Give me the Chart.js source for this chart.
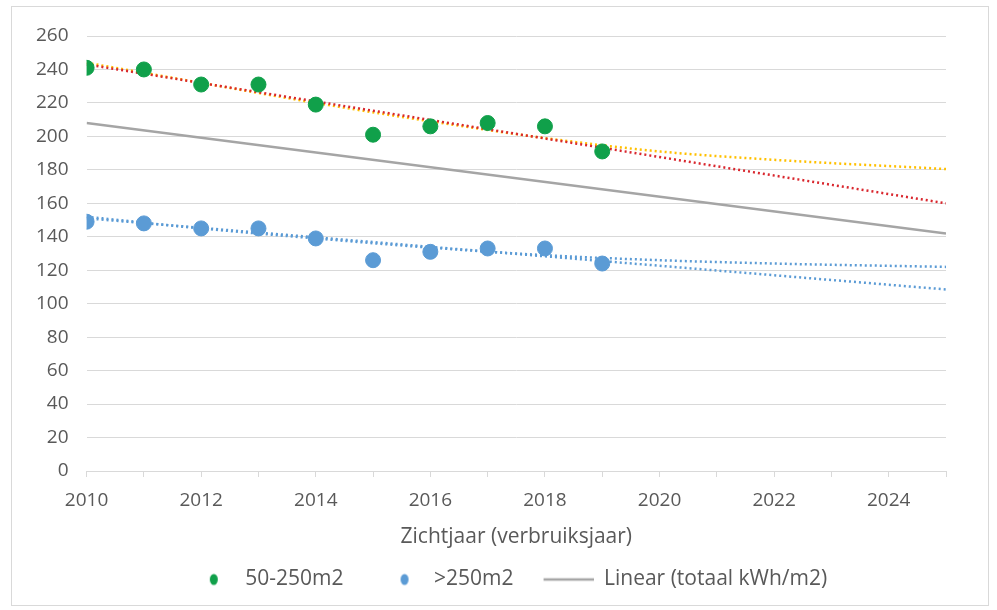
<!DOCTYPE html>
<html>
<head>
<meta charset="utf-8">
<script src="https://cdn.jsdelivr.net/npm/chart.js@4.4.1/dist/chart.umd.min.js"></script>
<style>
    html, body { margin: 0; padding: 0; background: #fff; }
    #wrap {
        position: absolute; left: 11px; top: 6px; width: 978px; height: 600px;
        border: 1px solid #d9d9d9; box-sizing: border-box;
    }
    #box { position: absolute; left: 0; top: 0; width: 997px; height: 610px; }
</style>
</head>
<body>
<div id="wrap"></div>
<div id="box"><canvas id="chart" width="997" height="610"></canvas></div>
<script>
// measured points (zichtjaar)
const years = [2010, 2011, 2012, 2013, 2014, 2015, 2016, 2017, 2018, 2019];
const small = [241, 240, 231, 231, 219, 201, 206, 208, 206, 191];   // 50-250m2
const large = [149, 148, 145, 145, 139, 126, 131, 133, 133, 124];   // >250m2

// trend lines
const totalX = [2010, 2025];
const totalY = [208, 142];                 // Linear (totaal kWh/m2)
const smallLinX = [2010, 2025];
const smallLinY = [243, 160];
const smallCurveX = [2010, 2012, 2014, 2016, 2018, 2020, 2022, 2025];
const smallCurveY = [244, 232, 220, 209, 199, 191, 186, 180.5];
const largeLinX = [2010, 2025];
const largeLinY = [151, 108.5];
const largeCurveX = [2010, 2012, 2014, 2016, 2018, 2020, 2022, 2025];
const largeCurveY = [152, 145, 139, 133.5, 129, 126, 124, 122];

const xLabels = [2010, 2012, 2014, 2016, 2018, 2020, 2022, 2024];

function pts(xs, ys) {
    return xs.map((x, i) => ({ x: x, y: ys[i] }));
}

const grey = "#595959";
const font = "'Open Sans', 'Liberation Sans', sans-serif";
const green = "#10a04a";
const blue = "#5b9bd5";
const lineGrey = "#a5a5a5";

// legend symbols, drawn into boxes so spacing looks like the Excel legend
const ICON_W = 68;
function legendIcon(kind, color, offset) {
    const c = document.createElement("canvas");
    c.width = ICON_W;
    c.height = 14;
    const g = c.getContext("2d");
    g.fillStyle = color;
    g.strokeStyle = color;
    if (kind === "dot") {
        g.beginPath();
        g.ellipse(offset, 7, 4, 5.5, 0, 0, Math.PI * 2);
        g.fill();
    } else {
        g.lineWidth = 2.5;
        g.beginPath();
        g.moveTo(offset, 7);
        g.lineTo(ICON_W, 7);
        g.stroke();
    }
    return c;
}
const icons = [legendIcon("dot", green, 47), legendIcon("dot", blue, 49), legendIcon("line", lineGrey, 18)];

// nudge the legend a bit to the right, as in the original
const legendShift = {
    id: "legendShift",
    afterLayout(chart) {
        chart.legend.left += 15;
        chart.legend.right += 15;
    },
};

const ctx = document.getElementById("chart").getContext("2d");
new Chart(ctx, {
    type: "scatter",
    data: {
        datasets: [
            {
                label: "50-250m2",
                data: pts(years, small),
                backgroundColor: green,
                borderColor: green,
                pointRadius: 7.5,
                order: 0,
            },
            {
                label: ">250m2",
                data: pts(years, large),
                backgroundColor: blue,
                borderColor: blue,
                pointRadius: 7.5,
                order: 0,
            },
            {
                label: "Linear (totaal kWh/m2)",
                data: pts(totalX, totalY),
                showLine: true,
                borderColor: lineGrey,
                backgroundColor: lineGrey,
                borderWidth: 2.5,
                pointRadius: 0,
                order: 2,
            },
            {
                label: "curve small",
                data: pts(smallCurveX, smallCurveY),
                showLine: true,
                cubicInterpolationMode: "monotone",
                borderColor: "#ffc000",
                borderWidth: 2.5,
                borderDash: [2, 3],
                pointRadius: 0,
                order: 3,
            },
            {
                label: "linear small",
                data: pts(smallLinX, smallLinY),
                showLine: true,
                borderColor: "#d9272e",
                borderWidth: 2.5,
                borderDash: [2, 3],
                pointRadius: 0,
                order: 1,
            },
            {
                label: "curve large",
                data: pts(largeCurveX, largeCurveY),
                showLine: true,
                cubicInterpolationMode: "monotone",
                borderColor: blue,
                borderWidth: 2.5,
                borderDash: [2, 3],
                pointRadius: 0,
                order: 3,
            },
            {
                label: "linear large",
                data: pts(largeLinX, largeLinY),
                showLine: true,
                borderColor: blue,
                borderWidth: 2.5,
                borderDash: [2, 3],
                pointRadius: 0,
                order: 3,
            },
        ],
    },
    plugins: [legendShift],
    options: {
        responsive: false,
        animation: false,
        layout: { padding: { left: 18, right: 51, top: 36, bottom: 10 } },
        plugins: {
            tooltip: { enabled: false },
            legend: {
                position: "bottom",
                labels: {
                    usePointStyle: true,
                    pointStyleWidth: ICON_W,
                    boxHeight: 14,
                    padding: 12,
                    color: grey,
                    font: { family: font, size: 21 },
                    generateLabels: (chart) =>
                        chart.data.datasets.slice(0, 3).map((ds, i) => ({
                            text: ds.label,
                            datasetIndex: i,
                            pointStyle: icons[i],
                            fillStyle: "transparent",
                            strokeStyle: "transparent",
                            lineWidth: 0,
                            fontColor: grey,
                        })),
                },
            },
        },
        scales: {
            x: {
                type: "linear",
                min: 2010,
                max: 2025,
                ticks: {
                    stepSize: 1,
                    autoSkip: false,
                    maxRotation: 0,
                    color: grey,
                    font: { family: font, size: 19 },
                    padding: 12,
                    callback: (v) => (xLabels.includes(v) ? String(v) : ""),
                },
                grid: { drawOnChartArea: false, drawTicks: true, tickLength: 6, color: "#d9d9d9" },
                border: { color: "#d9d9d9", width: 1 },
                title: {
                    display: true,
                    text: "Zichtjaar (verbruiksjaar)",
                    color: grey,
                    font: { family: font, size: 21 },
                    padding: { top: 1, bottom: 7 },
                },
            },
            y: {
                min: 0,
                max: 260,
                ticks: {
                    stepSize: 20,
                    color: grey,
                    font: { family: font, size: 19 },
                    padding: 18,
                },
                grid: { color: "#d9d9d9", drawTicks: false },
                border: { display: false },
            },
        },
    },
});
</script>
</body>
</html>
